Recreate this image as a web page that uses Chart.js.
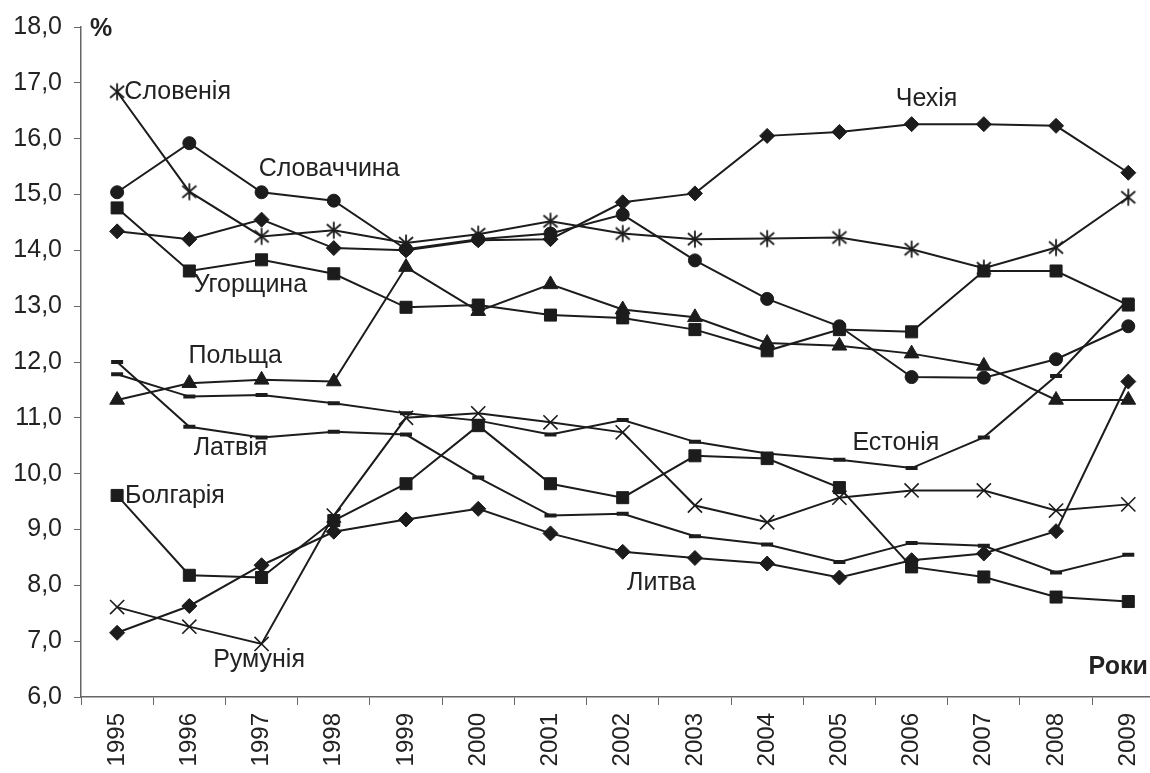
<!DOCTYPE html>
<html>
<head>
<meta charset="utf-8">
<script src="https://cdn.jsdelivr.net/npm/chart.js@4/dist/chart.umd.min.js"></script>
<style>
  html, body { margin: 0; padding: 0; background: #fff; overflow: hidden; }
  #wrap { position: absolute; left: 0; top: 0; }
</style>
</head>
<body>
<div id="wrap"><canvas id="chart" width="1176" height="773"></canvas></div>
<script>
// categories
const years = ["1995", "1996", "1997", "1998", "1999", "2000", "2001", "2002",
  "2003", "2004", "2005", "2006", "2007", "2008", "2009"];

// series values, %
const slovenia  = [16.84, 15.05, 14.25, 14.36, 14.13, 14.29, 14.52, 14.30, 14.20, 14.21, 14.23, 14.02, 13.68, 14.05, 14.95];
const slovakia  = [15.04, 15.92, 15.04, 14.89, 14.02, 14.20, 14.30, 14.64, 13.82, 13.13, 12.64, 11.73, 11.72, 12.05, 12.64];
const czech     = [14.34, 14.20, 14.55, 14.04, 14.00, 14.18, 14.20, 14.86, 15.02, 16.05, 16.12, 16.26, 16.26, 16.23, 15.39];
const hungary   = [14.76, 13.63, 13.83, 13.58, 12.98, 13.02, 12.84, 12.79, 12.58, 12.20, 12.58, 12.54, 13.63, 13.63, 13.02];
const poland    = [11.32, 11.62, 11.68, 11.65, 13.70, 12.91, 13.39, 12.94, 12.80, 12.34, 12.29, 12.15, 11.93, 11.32, 11.32];
const latvia    = [12.00, 10.84, 10.65, 10.75, 10.70, 9.93, 9.25, 9.28, 8.88, 8.73, 8.42, 8.76, 8.71, 8.23, 8.55];
const estonia   = [11.78, 11.38, 11.41, 11.26, 11.08, 10.95, 10.70, 10.96, 10.57, 10.36, 10.25, 10.10, 10.65, 11.75, 13.12];
const bulgaria  = [9.61, 8.18, 8.14, 9.16, 9.82, 10.86, 9.82, 9.57, 10.32, 10.27, 9.75, 8.33, 8.15, 7.79, 7.71];
const lithuania = [7.15, 7.63, 8.36, 8.96, 9.18, 9.37, 8.93, 8.60, 8.49, 8.39, 8.14, 8.45, 8.57, 8.97, 11.65];
const romania   = [7.61, 7.26, 6.95, 9.25, 11.00, 11.08, 10.92, 10.74, 9.43, 9.13, 9.57, 9.70, 9.70, 9.34, 9.45];

// y axis range
const yMin = 6;
const yMax = 18;
const yStep = 1;

const ink = "#1c1c1c";
const font = "'Liberation Sans', Arial, sans-serif";

// asterisk marker (Excel style: X plus vertical bar)
const star = document.createElement("canvas");
star.width = 20;
star.height = 20;
(() => {
  const c = star.getContext("2d");
  c.strokeStyle = ink;
  c.lineWidth = 1.8;
  c.beginPath();
  c.moveTo(10, 1.5); c.lineTo(10, 18.5);
  c.moveTo(3, 4); c.lineTo(17, 16);
  c.moveTo(17, 4); c.lineTo(3, 16);
  c.stroke();
})();

const series = [
  { label: "Словенія", data: slovenia, pointStyle: star, pointRadius: 10 },
  { label: "Словаччина", data: slovakia, pointStyle: "circle", pointRadius: 6.5 },
  { label: "Чехія", data: czech, pointStyle: "rectRot", pointRadius: 7.5 },
  { label: "Угорщина", data: hungary, pointStyle: "rect", pointRadius: 8.5 },
  { label: "Польща", data: poland, pointStyle: "triangle", pointRadius: 8.5 },
  { label: "Латвія", data: latvia, pointStyle: "line", pointRadius: 6, pointBorderWidth: 4 },
  { label: "Естонія", data: estonia, pointStyle: "line", pointRadius: 6, pointBorderWidth: 4 },
  { label: "Болгарія", data: bulgaria, pointStyle: "rect", pointRadius: 8.5 },
  { label: "Литва", data: lithuania, pointStyle: "rectRot", pointRadius: 7.5 },
  { label: "Румунія", data: romania, pointStyle: "crossRot", pointRadius: 10, pointBorderWidth: 1.6 },
];

// text labels in data space: [category index, value]
const notes = [
  { text: "Словенія", at: [0.1, 16.84] },
  { text: "Словаччина", at: [1.96, 15.45] },
  { text: "Чехія", at: [10.78, 16.7] },
  { text: "Угорщина", at: [1.06, 13.38] },
  { text: "Польща", at: [0.99, 12.11] },
  { text: "Латвія", at: [1.06, 10.46] },
  { text: "Естонія", at: [10.18, 10.55] },
  { text: "Болгарія", at: [0.11, 9.59] },
  { text: "Литва", at: [7.06, 8.04] },
  { text: "Румунія", at: [1.33, 6.66] },
];

const notesPlugin = {
  id: "notes",
  afterDatasetsDraw(chart) {
    const { ctx, scales: { x, y }, chartArea } = chart;
    ctx.save();
    ctx.fillStyle = "#222";
    ctx.textBaseline = "middle";
    ctx.textAlign = "left";
    ctx.font = "25px " + font;
    notes.forEach((n) => {
      ctx.fillText(n.text, x.getPixelForValue(n.at[0]), y.getPixelForValue(n.at[1]));
    });
    ctx.font = "bold 25px " + font;
    ctx.fillText("%", chartArea.left + 9, chartArea.top + 2);
    ctx.textAlign = "right";
    ctx.fillText("Роки", x.getPixelForValue(14.27), y.getPixelForValue(6.54));
    ctx.restore();
  },
};

new Chart(document.getElementById("chart"), {
  type: "line",
  data: {
    labels: years,
    datasets: series.map((s) => ({
      label: s.label,
      data: s.data,
      borderColor: ink,
      backgroundColor: ink,
      borderWidth: 2,
      tension: 0,
      pointStyle: s.pointStyle,
      pointRadius: s.pointRadius,
      pointBorderWidth: s.pointBorderWidth || 1,
      pointBackgroundColor: ink,
      pointBorderColor: ink,
    })),
  },
  options: {
    responsive: false,
    animation: false,
    layout: { padding: { top: 25, left: 0, right: 0, bottom: 0 } },
    plugins: { legend: { display: false }, tooltip: { enabled: false } },
    scales: {
      x: {
        offset: true,
        grid: { offset: true, drawOnChartArea: false, drawTicks: true, tickLength: 8, color: "#666", lineWidth: 1 },
        border: { display: true, color: "#666", width: 1.5 },
        ticks: { color: "#222", font: { size: 24, family: font }, minRotation: 90, maxRotation: 90, padding: 8, autoSkip: false },
        afterFit: (s) => { s.height = 76; },
      },
      y: {
        min: yMin,
        max: yMax,
        grid: { drawOnChartArea: false, drawTicks: true, tickLength: 7, color: "#666", lineWidth: 1 },
        border: { display: true, color: "#666", width: 1.5 },
        ticks: {
          stepSize: yStep,
          color: "#222",
          padding: 12,
          font: { size: 25, family: font },
          callback: (v) => v.toFixed(1).replace(".", ","),
        },
        afterFit: (s) => { s.width = 81; },
      },
    },
  },
  plugins: [notesPlugin],
});
</script>
</body>
</html>
